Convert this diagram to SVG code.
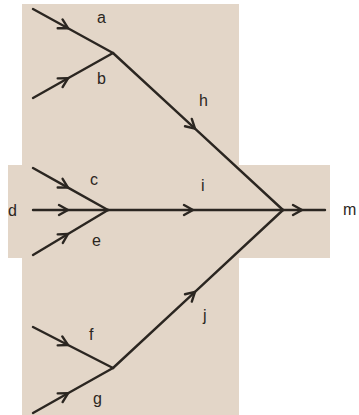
<svg xmlns="http://www.w3.org/2000/svg" width="359" height="415" viewBox="0 0 359 415">
<defs>
<marker id="arr" markerUnits="userSpaceOnUse" markerWidth="20" markerHeight="20" refX="0" refY="0" viewBox="-12 -10 14 20" orient="auto" overflow="visible">
<path d="M-9,-5 L0,0 L-9,5" fill="none" stroke="#2b2621" stroke-width="2.4" stroke-linecap="round" stroke-linejoin="round"/>
</marker>
<style>
.ln{fill:none;stroke:#2b2621;stroke-width:2.4;stroke-linecap:round;stroke-linejoin:round;marker-mid:url(#arr)}
.pl{fill:none;stroke:#2b2621;stroke-width:2.4;stroke-linecap:round}
.lb{font-family:"Liberation Sans",Arial,sans-serif;font-size:16px;fill:#2b2621}
</style>
</defs>
<rect width="359" height="415" fill="#ffffff"/>
<g id="background">
<rect x="22" y="4" width="217" height="411" fill="#e3d6c8"/>
<rect x="8" y="165" width="322" height="93" fill="#e3d6c8"/>
</g>
<g id="connectors">
<polyline id="edge-a" class="ln" points="33,9 68,28.2 113,53"/>
<polyline id="edge-b" class="ln" points="33,98 68,78.3 113,53"/>
<polyline id="edge-h" class="ln" points="113,53 195,128.7 283,210"/>
<polyline id="edge-c" class="ln" points="33,168 68,187.6 108,210"/>
<polyline id="edge-d" class="ln" points="33,210 68,210 108,210"/>
<polyline id="edge-e" class="ln" points="33,255 68,234 108,210"/>
<polyline id="edge-i" class="ln" points="108,210 193,210 283,210"/>
<polyline id="edge-m" class="ln" points="283,210 302,210 325,210"/>
<polyline id="edge-f" class="ln" points="33,327 68,345 113,368"/>
<polyline id="edge-g" class="ln" points="33,413 68,393.3 113,368"/>
<polyline id="edge-j" class="ln" points="113,368 195,291.8 283,210"/>
</g>
<g id="labels">
<text class="lb" x="97" y="23">a</text>
<text class="lb" x="97" y="84">b</text>
<text class="lb" x="199" y="106">h</text>
<text class="lb" x="90" y="185">c</text>
<text class="lb" x="8" y="216">d</text>
<text class="lb" x="92" y="246">e</text>
<text class="lb" x="201" y="191">i</text>
<text class="lb" x="343" y="215">m</text>
<text class="lb" x="89" y="340">f</text>
<text class="lb" x="93" y="404">g</text>
<text class="lb" x="203" y="321">j</text>
</g>
</svg>
